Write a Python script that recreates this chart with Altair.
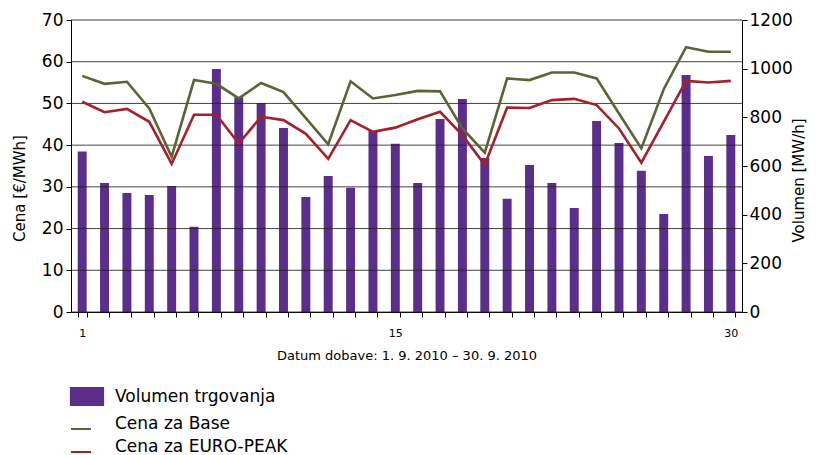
import altair as alt
import pandas as pd

days = list(range(1, 31))
volume = [660, 530, 489, 481, 518, 350, 999, 883, 859, 756,
          473, 559, 511, 745, 691, 530, 793, 875, 633, 465,
          604, 530, 427, 785, 695, 580, 403, 974, 641, 727]
base = [56.6, 54.7, 55.2, 48.8, 37.2, 55.6, 54.7, 51.2, 54.9, 52.7,
        46.5, 40.2, 55.3, 51.2, 52.0, 53.0, 52.9, 44.0, 38.2, 56.0,
        55.6, 57.4, 57.4, 56.0, 47.6, 39.2, 53.4, 63.5, 62.4, 62.4]
peak = [50.4, 47.9, 48.7, 45.6, 35.5, 47.3, 47.3, 40.4, 46.8, 46.0,
        42.7, 36.7, 46.0, 43.2, 44.2, 46.2, 48.0, 42.4, 35.3, 49.0,
        48.9, 50.8, 51.1, 49.6, 44.0, 35.8, 45.6, 55.4, 55.0, 55.4]
grid_values = [0, 10, 20, 30, 40, 50, 60, 70]
volume_ticks = [0, 200, 400, 600, 800, 1000, 1200]
shown_labels = [1, 15, 30]

bar_name = "Volumen trgovanja"
base_name = "Cena za Base"
peak_name = "Cena za EURO-PEAK"

PURPLE = "#5b2e8b"
GREEN = "#5b6434"
RED = "#a3212a"
FONT = "DejaVu Sans"

bars_df = pd.DataFrame({"day": days, "volume": volume, "s": bar_name})
lines_df = pd.concat([
    pd.DataFrame({"day": days, "price": base, "series": base_name}),
    pd.DataFrame({"day": days, "price": peak, "series": peak_name}),
])
grid_df = pd.DataFrame({"g": grid_values})

label_test = " || ".join(f"datum.value == {v}" for v in shown_labels)

x_enc = alt.X(
    "day:O",
    scale=alt.Scale(paddingInner=0.6, paddingOuter=0.3),
    axis=alt.Axis(
        title="Datum dobave: 1. 9. 2010 – 30. 9. 2010",
        titleFont=FONT, titleFontSize=13, titleFontWeight="normal",
        titleColor="#000", titlePadding=11,
        labelAngle=0, labelFont=FONT, labelFontSize=11, labelColor="#000",
        labelExpr=f"({label_test}) ? datum.label : ''",
        labelPadding=10,
        tickBand="extent", tickSize=5, tickColor="#000",
        domainColor="#000", grid=False,
    ),
)

left_axis = alt.Axis(
    title="Cena [€/MWh]", values=grid_values,
    titleFont=FONT, titleFontSize=15, titleFontWeight="normal", titleColor="#000",
    titleAngle=270, titlePadding=14, titleY=168,
    labelFont=FONT, labelFontSize=17, labelColor="#000", labelPadding=3,
    tickSize=5, tickColor="#000", domainColor="#000", grid=False,
)
left_scale = alt.Scale(domain=[0, 70], nice=False)

bars = alt.Chart(bars_df).mark_bar(opacity=1).encode(
    x=x_enc,
    y=alt.Y(
        "volume:Q",
        scale=alt.Scale(domain=[0, 1200], nice=False),
        axis=alt.Axis(
            orient="right", title="Volumen [MW/h]", values=volume_ticks, format="d",
            titleFont=FONT, titleFontSize=15, titleFontWeight="normal", titleColor="#000",
            titleAngle=270, titlePadding=14, titleY=160,
            labelFont=FONT, labelFontSize=17, labelColor="#000", labelPadding=2,
            tickSize=5, tickColor="#000", domainColor="#000", grid=False,
        ),
    ),
    fill=alt.Fill(
        "s:N",
        scale=alt.Scale(domain=[bar_name], range=[PURPLE]),
        legend=alt.Legend(
            title=None, orient="none", legendX=6.5, legendY=367,
            symbolType="M-1.8,-1H1.8V1H-1.8Z", symbolSize=361,
            symbolStrokeWidth=0, symbolOpacity=1,
            labelFont=FONT, labelFontSize=17, labelColor="#000", labelOffset=18.5,
            labelLimit=400, padding=0,
        ),
    ),
)

grid = alt.Chart(grid_df).mark_rule(color="#222", strokeWidth=1, opacity=0.85).encode(
    y=alt.Y("g:Q", scale=left_scale, axis=left_axis),
)

lines = alt.Chart(lines_df).mark_line(strokeWidth=2.6).encode(
    x=alt.X("day:O"),
    y=alt.Y("price:Q", scale=left_scale, axis=left_axis),
    stroke=alt.Stroke(
        "series:N",
        scale=alt.Scale(domain=[base_name, peak_name], range=[GREEN, RED]),
        legend=alt.Legend(
            title=None, orient="none", legendX=-1, legendY=393,
            symbolType="M-1,0.5L1,0.5", symbolSize=400, symbolStrokeWidth=2,
            labelFont=FONT, labelFontSize=17, labelColor="#000", labelOffset=23,
            labelLimit=400, rowPadding=3, padding=0,
        ),
    ),
)

chart = alt.layer(bars, alt.layer(grid, lines)).resolve_scale(
    y="independent"
).properties(
    width=671, height=292,
    autosize=alt.AutoSizeParams(type="none"),
    padding={"left": 63, "top": 12, "right": 66, "bottom": 143},
).configure_view(stroke=None)

chart.save("out.html", embed_options={"renderer": "svg", "actions": False})
